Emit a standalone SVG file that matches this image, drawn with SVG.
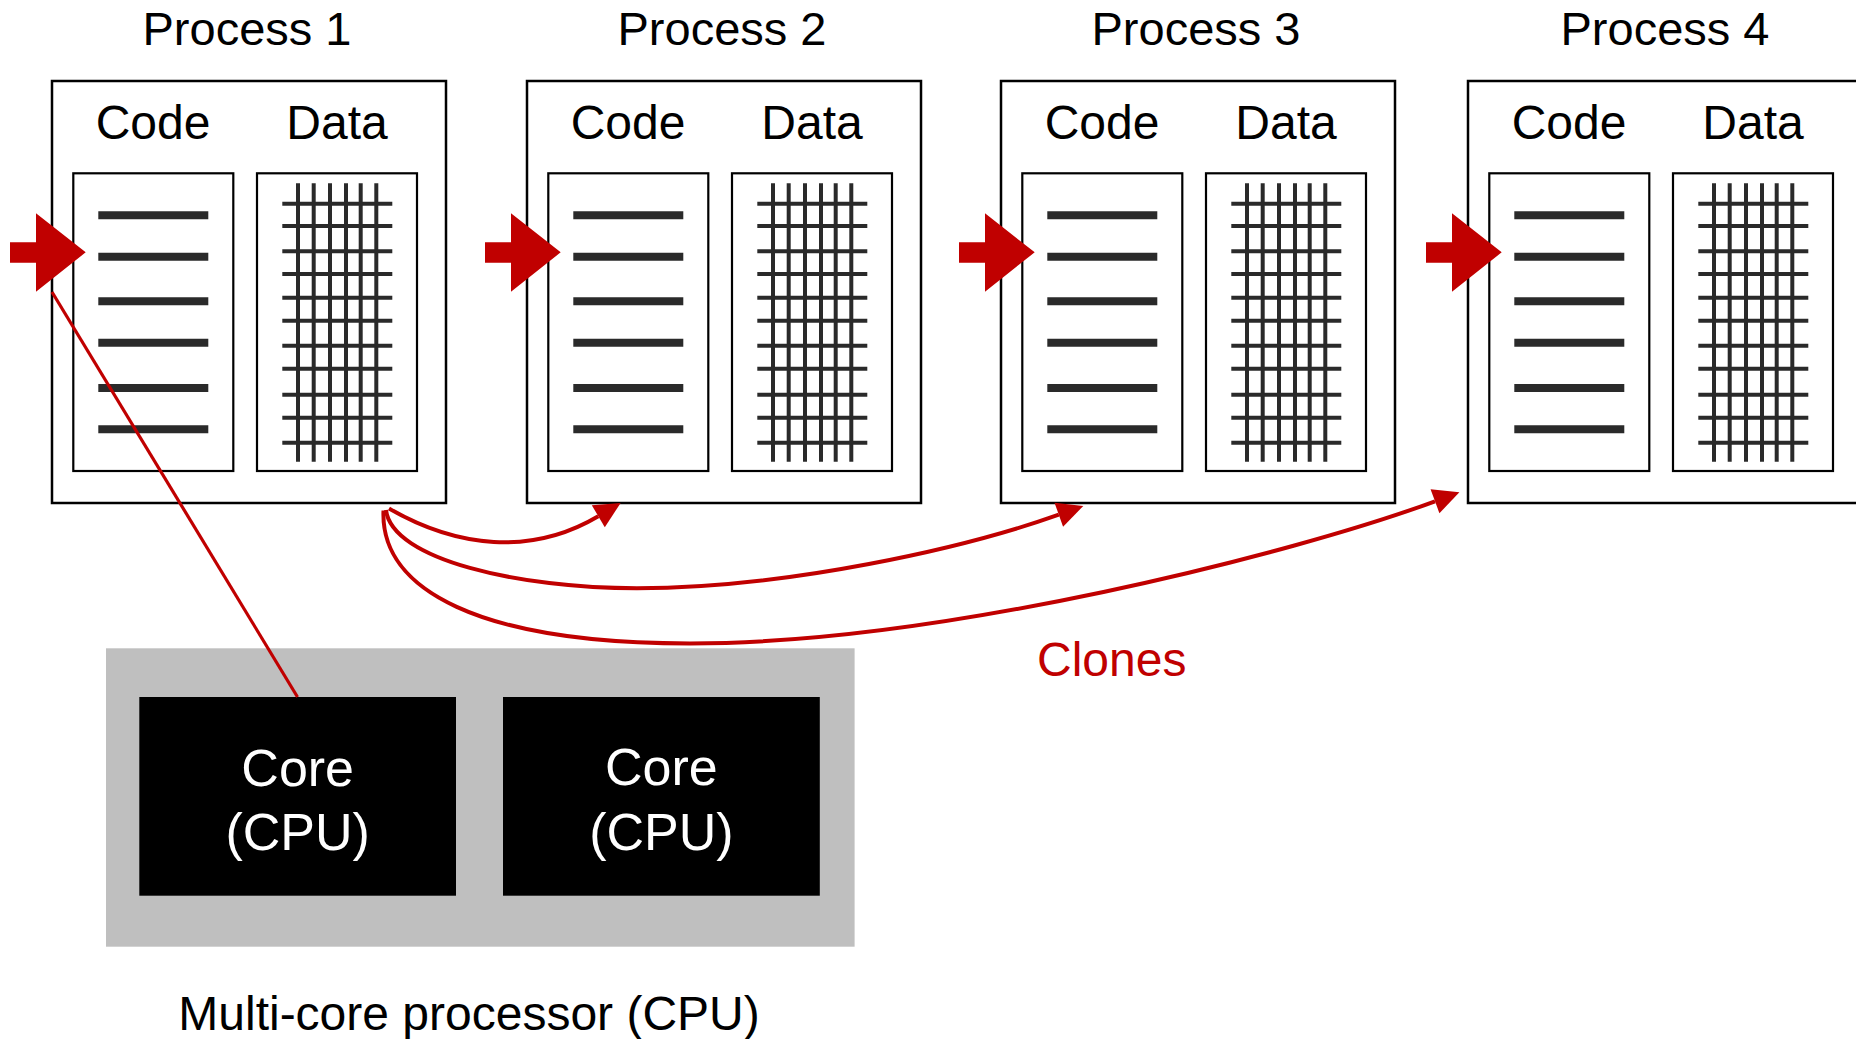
<svg xmlns="http://www.w3.org/2000/svg" xmlns:xlink="http://www.w3.org/1999/xlink" width="1856" height="1039" viewBox="0 0 1856 1039">
  <style>
    text { font-family: "Liberation Sans", Arial, Helvetica, sans-serif; }
    .title { font-size: 47px; fill: #000; text-anchor: middle; }
    .label { font-size: 48px; fill: #000; text-anchor: middle; }
    .frame { fill: #fff; stroke: #000; stroke-width: 2.5; }
    .panel { fill: #fff; stroke: #000; stroke-width: 2.2; }
    .codeline { stroke: #2a2a2a; stroke-width: 8; }
    .gridline { stroke: #2a2a2a; stroke-width: 4; }
    .entry { fill: #c00000; }
    .core { fill: #000; }
    .coretext { font-size: 52px; fill: #fff; text-anchor: middle; }
    .clone { fill: none; stroke: #c00000; stroke-width: 4; }
    .link { fill: none; stroke: #c00000; stroke-width: 3.2; }
    .clonelabel { font-size: 48px; fill: #c00000; text-anchor: middle; }
    .cpulabel { font-size: 48px; fill: #000; text-anchor: middle; }
  </style>
  <defs>
    <marker id="head" markerUnits="userSpaceOnUse" markerWidth="27" markerHeight="26" refX="0" refY="12.75" orient="auto" overflow="visible">
      <path d="M0,0 L26,12.75 L0,25.5 Z" fill="#c00000"/>
    </marker>
    <!-- instruction listing inside the code panel -->
    <g id="codeLines">
      <line class="codeline" x1="46.3" y1="134.3" x2="156.3" y2="134.3"/>
      <line class="codeline" x1="46.3" y1="175.7" x2="156.3" y2="175.7"/>
      <line class="codeline" x1="46.3" y1="220.3" x2="156.3" y2="220.3"/>
      <line class="codeline" x1="46.3" y1="261.7" x2="156.3" y2="261.7"/>
      <line class="codeline" x1="46.3" y1="307" x2="156.3" y2="307"/>
      <line class="codeline" x1="46.3" y1="348.3" x2="156.3" y2="348.3"/>
    </g>
    <!-- memory grid inside the data panel -->
    <g id="dataGrid">
      <line class="gridline" x1="246" y1="102.3" x2="246" y2="380.7"/>
      <line class="gridline" x1="261.7" y1="102.3" x2="261.7" y2="380.7"/>
      <line class="gridline" x1="278" y1="102.3" x2="278" y2="380.7"/>
      <line class="gridline" x1="294" y1="102.3" x2="294" y2="380.7"/>
      <line class="gridline" x1="308.7" y1="102.3" x2="308.7" y2="380.7"/>
      <line class="gridline" x1="324.3" y1="102.3" x2="324.3" y2="380.7"/>
      <line class="gridline" x1="230.3" y1="122.7" x2="340.3" y2="122.7"/>
      <line class="gridline" x1="230.3" y1="145" x2="340.3" y2="145"/>
      <line class="gridline" x1="230.3" y1="170.3" x2="340.3" y2="170.3"/>
      <line class="gridline" x1="230.3" y1="193" x2="340.3" y2="193"/>
      <line class="gridline" x1="230.3" y1="216.7" x2="340.3" y2="216.7"/>
      <line class="gridline" x1="230.3" y1="239.7" x2="340.3" y2="239.7"/>
      <line class="gridline" x1="230.3" y1="264.7" x2="340.3" y2="264.7"/>
      <line class="gridline" x1="230.3" y1="287.7" x2="340.3" y2="287.7"/>
      <line class="gridline" x1="230.3" y1="313.7" x2="340.3" y2="313.7"/>
      <line class="gridline" x1="230.3" y1="336.7" x2="340.3" y2="336.7"/>
      <line class="gridline" x1="230.3" y1="361.7" x2="340.3" y2="361.7"/>
    </g>
    <!-- program-counter arrow pointing into the code -->
    <polygon id="entryArrow" class="entry" points="-42,161.3 -16,161.3 -16,132.3 33.7,171.3 -16,210.7 -16,181.7 -42,181.7"/>
  </defs>

  <rect width="1856" height="1039" fill="#fff"/>

  <!-- multi-core processor -->
  <g id="cpu">
    <rect x="106" y="648.3" width="748.6" height="298.4" fill="#bfbfbf"/>
    <text class="cpulabel" x="469" y="1030">Multi-core processor (CPU)</text>
  </g>
  <g id="core1">
    <rect class="core" x="139.3" y="697" width="316.7" height="198.7"/>
    <text class="coretext" x="297.7" y="785.7">Core</text>
    <text class="coretext" x="297.7" y="850">(CPU)</text>
  </g>
  <g id="core2">
    <rect class="core" x="503" y="697" width="316.8" height="198.7"/>
    <text class="coretext" x="661.4" y="785">Core</text>
    <text class="coretext" x="661.4" y="849.5">(CPU)</text>
  </g>

  <!-- processes -->
  <g id="process1" transform="translate(52,81)">
    <text class="title" x="195" y="-36">Process 1</text>
    <rect class="frame" x="0" y="0" width="394" height="422"/>
    <text class="label" x="101" y="58">Code</text>
    <text class="label" x="285" y="58">Data</text>
    <rect class="panel" x="21.3" y="92.3" width="160" height="297.7"/>
    <rect class="panel" x="205" y="92.3" width="160" height="297.7"/>
    <use xlink:href="#codeLines"/>
    <use xlink:href="#dataGrid"/>
    <use xlink:href="#entryArrow"/>
  </g>
  <g id="process2" transform="translate(527,81)">
    <text class="title" x="195" y="-36">Process 2</text>
    <rect class="frame" x="0" y="0" width="394" height="422"/>
    <text class="label" x="101" y="58">Code</text>
    <text class="label" x="285" y="58">Data</text>
    <rect class="panel" x="21.3" y="92.3" width="160" height="297.7"/>
    <rect class="panel" x="205" y="92.3" width="160" height="297.7"/>
    <use xlink:href="#codeLines"/>
    <use xlink:href="#dataGrid"/>
    <use xlink:href="#entryArrow"/>
  </g>
  <g id="process3" transform="translate(1001,81)">
    <text class="title" x="195" y="-36">Process 3</text>
    <rect class="frame" x="0" y="0" width="394" height="422"/>
    <text class="label" x="101" y="58">Code</text>
    <text class="label" x="285" y="58">Data</text>
    <rect class="panel" x="21.3" y="92.3" width="160" height="297.7"/>
    <rect class="panel" x="205" y="92.3" width="160" height="297.7"/>
    <use xlink:href="#codeLines"/>
    <use xlink:href="#dataGrid"/>
    <use xlink:href="#entryArrow"/>
  </g>
  <g id="process4" transform="translate(1468,81)">
    <text class="title" x="197" y="-36">Process 4</text>
    <rect class="frame" x="0" y="0" width="394" height="422"/>
    <text class="label" x="101" y="58">Code</text>
    <text class="label" x="285" y="58">Data</text>
    <rect class="panel" x="21.3" y="92.3" width="160" height="297.7"/>
    <rect class="panel" x="205" y="92.3" width="160" height="297.7"/>
    <use xlink:href="#codeLines"/>
    <use xlink:href="#dataGrid"/>
    <use xlink:href="#entryArrow"/>
  </g>

  <!-- connectors -->
  <g id="connectors">
    <line class="link" x1="52" y1="292" x2="297.5" y2="697"/>
    <path class="clone" marker-end="url(#head)" d="M389,508.5 C456.5,547.5 531.2,556 598.3,516.2"/>
    <path class="clone" marker-end="url(#head)" d="M386,510 C392,560 520,588.3 637,588.3 C787,588.3 964.8,548.2 1058.8,514.7"/>
    <path class="clone" marker-end="url(#head)" d="M383.5,510.5 C380,590 480,643.5 690,643.5 C940,643.5 1294.3,553.35 1435,501.3"/>
    <text class="clonelabel" x="1111.7" y="676">Clones</text>
  </g>
</svg>
